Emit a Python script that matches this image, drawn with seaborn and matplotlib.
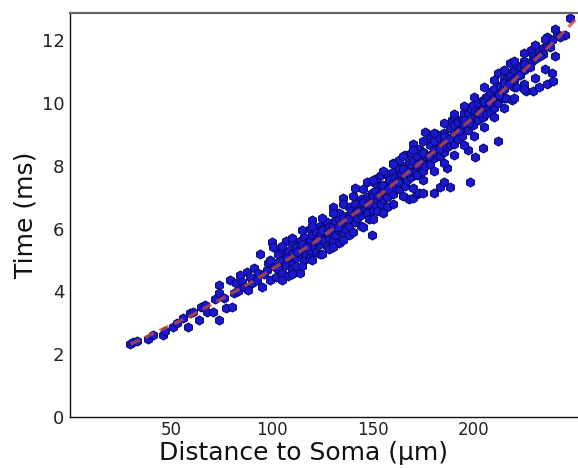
import matplotlib
matplotlib.use("Agg")
import matplotlib.pyplot as plt
import seaborn as sns
import pandas as pd

# Scatter points (distance in um, time in ms), grouped by x range
pts_near = [(29.5, 2.33), (31.2, 2.39), (33, 2.42), (38.6, 2.48), (41, 2.62), (46, 2.6), (47, 2.75),
            (51, 2.87), (53, 3.0), (56, 3.15), (58.4, 2.87), (59.4, 3.3), (61, 3.35), (64, 3.1),
            (65, 3.5), (67, 3.57), (68, 3.34), (71, 3.34), (72, 3.75), (74, 3.1), (74, 4.2),
            (74, 3.95), (76, 3.8), (77, 3.47), (79, 4.36), (80, 3.5), (81, 3.95), (82, 4.27),
            (83, 4.0), (84, 4.52), (85, 4.3), (86, 4.14), (87.6, 4.62), (88, 4.05), (89, 4.45),
            (90, 4.27), (91, 4.75), (92.6, 4.36), (93, 4.6), (94, 5.2), (95, 4.15), (96, 4.55),
            (97.5, 4.68), (98, 4.9), (99, 5.0), (99, 4.35), (100, 5.57), (100.5, 5.4),
            (101.5, 4.78), (102, 4.46)]

pts_mid = [(103, 4.95), (103, 5.2), (103, 4.7), (105, 4.6), (105, 5.0), (105, 5.35),
           (107, 4.85), (107, 5.15), (107, 5.6), (108, 4.5), (108, 5.3), (110, 4.95), (110, 5.2),
           (110, 5.55), (110, 4.7), (112, 5.05), (112, 5.4), (112, 4.8), (114, 4.6), (114, 5.2),
           (114, 5.6), (114, 5.35), (116, 5.0), (116, 5.4), (116, 5.75), (117, 5.2), (117, 5.55),
           (119, 6.0), (119, 5.3), (119, 5.6), (119, 5.05), (120, 6.27), (120, 5.45), (120, 5.8),
           (122, 5.25), (122, 5.6), (122, 5.9), (124, 5.5), (124, 5.8), (124, 6.1), (124, 5.2),
           (125, 5.65), (125, 6.0), (127, 5.45), (127, 5.85), (127, 6.2), (128, 5.7), (128, 6.05),
           (128, 5.35), (130, 6.7), (130, 5.9), (130, 6.1), (130, 5.6), (131, 6.25), (131, 5.8),
           (133, 5.95), (133, 6.3), (133, 5.55), (133, 6.5), (135, 6.97), (135, 6.15), (135, 6.4),
           (135, 5.85), (136, 6.0), (136, 6.3), (138, 6.45), (138, 6.1), (138, 6.7), (138, 5.8),
           (139, 6.3), (139, 6.55), (141, 7.3), (141, 6.5), (141, 6.2), (141, 6.8), (142, 6.35),
           (142, 6.6), (144, 6.7), (144, 6.45), (144, 6.95), (144, 6.1), (145, 6.6), (145, 6.85),
           (147, 7.5), (147, 6.75), (147, 7.0), (147, 6.5), (148, 6.9), (148, 6.3), (149.5, 5.8),
           (149.5, 7.15), (149.5, 6.85), (150, 7.05), (150, 6.6)]

pts_upper = [(151, 7.2), (151, 6.8), (151, 7.45), (152, 6.95), (152, 7.6), (152, 6.55),
             (154, 7.1), (154, 7.35), (154, 6.8), (154, 7.7), (155, 7.25), (155, 6.95),
             (157, 7.4), (157, 7.0), (157, 7.75), (157, 6.7), (158, 7.2), (158, 7.55),
             (160, 7.45), (160, 7.8), (160, 7.1), (160, 8.1), (161, 7.3), (161, 7.65),
             (163, 7.6), (163, 7.9), (163, 7.25), (163, 8.2), (164, 7.45), (164, 7.75),
             (166, 7.7), (166, 8.0), (166, 7.35), (166, 8.35), (167, 7.85), (167, 7.55),
             (168, 6.95), (168, 8.1), (169, 7.95), (169, 7.65), (169, 8.4), (170, 6.97),
             (170, 8.7), (170, 7.8), (170, 8.15), (172, 8.0), (172, 8.3), (172, 7.7), (172, 7.1),
             (173, 7.13), (173, 8.55), (173, 8.1), (175, 7.13), (175, 8.2), (175, 8.45),
             (175, 7.85), (176, 9.08), (176, 8.3), (176, 8.0), (178, 8.35), (178, 8.65),
             (178, 8.05), (178, 8.9), (180, 7.13), (180, 8.5), (180, 8.25), (180, 8.8),
             (181, 8.4), (181, 9.0), (183, 7.33), (183, 8.6), (183, 8.9), (183, 8.3), (185, 7.5),
             (185, 8.75), (185, 9.05), (185, 8.45), (186.6, 7.93), (186.6, 8.6), (188, 7.33),
             (188, 8.9), (188, 9.2), (188, 8.65), (189, 9.46), (189, 8.85), (190, 9.0), (190, 9.3),
             (190, 8.7), (190, 9.55), (192, 9.1), (192, 8.85), (192, 9.4), (194, 9.2), (194, 9.5),
             (194, 8.95), (195, 9.68), (195, 9.3), (197, 8.5), (197, 9.4), (197, 9.7), (197, 9.15),
             (198, 7.5), (198, 9.5), (198, 9.85), (199.5, 9.94), (199.5, 9.3), (200.5, 8.28),
             (200.5, 9.6), (200.5, 9.75)]

pts_far = [(202, 9.7), (202, 9.45), (202, 10.0), (204.5, 8.56), (204.5, 9.8), (204.5, 10.1),
           (204.5, 9.55), (206, 9.9), (206, 10.2), (206, 9.65), (208, 10.0), (208, 10.35),
           (208, 9.7), (210, 10.15), (210, 10.45), (210, 9.85), (212, 8.8), (212, 10.95),
           (212, 10.3), (212, 10.0), (213, 10.55), (213, 10.2), (215, 10.45), (215, 10.75),
           (215, 10.15), (216, 10.16), (216, 11.0), (218, 11.27), (218, 10.6), (218, 10.85),
           (219, 10.1), (219, 10.7), (220, 10.75), (220, 11.05), (220, 10.5), (221, 10.5),
           (221, 11.2), (223, 10.9), (223, 11.15), (225, 10.6), (225, 11.05), (225, 11.35),
           (226, 10.4), (226, 11.2), (228, 11.7), (228, 11.3), (229, 10.4), (229, 11.5),
           (230, 11.4), (232, 10.5), (232, 11.6), (234, 11.75), (234, 11.55), (236, 10.6),
           (236, 12.1), (236, 11.85), (238.6, 10.95), (238.6, 12.0), (239, 10.7), (241, 12.2),
           (245, 12.17), (247.5, 12.7)]

# Extra points at the edges and centre of the dense band
pts_band = [(105, 5.45), (105, 4.35), (110, 5.7), (110, 4.55), (115, 5.95), (115, 4.8), (115, 5.5),
            (120, 6.1), (120, 5.0), (125, 6.35), (125, 5.2), (125, 5.95), (130, 6.5), (130, 5.4),
            (135, 6.8), (135, 5.65), (135, 6.35), (140, 7.05), (140, 5.9), (145, 7.25), (145, 6.05),
            (145, 6.85), (150, 7.55), (150, 6.3), (155, 7.85), (155, 6.5), (155, 7.4), (160, 8.05),
            (160, 6.8), (165, 8.3), (165, 7.05), (165, 7.9), (170, 8.5), (170, 7.3), (175, 8.8),
            (175, 7.55), (175, 8.4), (180, 9.05), (180, 7.85), (185, 9.35), (185, 8.1), (185, 8.95),
            (190, 9.65), (190, 8.35), (195, 9.9), (195, 8.65), (195, 9.45), (200, 10.2), (200, 8.95),
            (205, 10.5), (205, 9.25), (205, 10.05), (210, 10.75), (210, 9.55), (215, 11.05),
            (215, 9.85), (215, 10.65), (220, 11.35), (220, 10.15), (225, 11.6), (225, 10.45),
            (225, 11.25), (230, 11.85), (230, 10.8), (235, 12.05), (235, 11.1), (240, 12.35),
            (240, 11.5), (107.5, 5.05), (112.5, 5.25), (117.5, 5.4), (122.5, 5.65), (127.5, 5.9),
            (132.5, 6.05), (137.5, 6.3), (142.5, 6.55), (147.5, 6.8), (152.5, 7.05), (157.5, 7.25),
            (162.5, 7.5), (167.5, 7.8), (172.5, 8.05), (177.5, 8.3), (182.5, 8.55), (187.5, 8.85),
            (192.5, 9.1), (197.5, 9.35), (202.5, 9.7), (207.5, 10.0), (212.5, 10.25),
            (217.5, 10.6), (222.5, 10.9), (227.5, 11.15), (232.5, 11.5), (237.5, 11.8),
            (242.5, 12.1)]

# Dashed fit curve
fit_x = [30, 60, 90, 120, 150, 180, 210, 240, 252]
fit_y = [2.32, 3.23, 4.30, 5.52, 6.90, 8.44, 10.13, 11.98, 12.77]

x_ticks = [50, 100, 150, 200]
y_ticks = [0, 2, 4, 6, 8, 10, 12]
x_label = "Distance to Soma (µm)"
y_label = "Time (ms)"

all_pts = pts_near + pts_mid + pts_upper + pts_far + pts_band
df = pd.DataFrame(all_pts, columns=["dist", "time"])

sns.set_style("white")
plt.rcParams["font.family"] = ["DejaVu Sans"]

fig = plt.figure(figsize=(5.78, 4.68), dpi=100)
ax = fig.add_axes([70 / 578, 51 / 468, 508 / 578, 404 / 468])

sns.scatterplot(data=df, x="dist", y="time", ax=ax, marker="h", s=42,
                color="#1a18d2", edgecolor="#0a0a70", linewidth=0.8, zorder=2)
sns.lineplot(x=fit_x, y=fit_y, ax=ax, color="#c24e3e", linewidth=2.4, alpha=0.75,
             linestyle=(0, (3.0, 1.8)), zorder=3)

ax.set_xlim(0, 251.5)
ax.set_ylim(0, 12.87)
ax.set_xticks(x_ticks)
ax.set_yticks(y_ticks)
ax.set_xticklabels([str(t) for t in x_ticks])
ax.set_yticklabels([str(t) for t in y_ticks])

ax.set_xlabel(x_label, fontsize=18, color="#111111")
ax.set_ylabel(y_label, fontsize=18, color="#111111")
ax.xaxis.set_label_coords(0.46, -0.06)
ax.yaxis.set_label_coords(-0.064, 0.5)

ax.tick_params(axis="x", direction="in", length=5, width=1, pad=3,
               labelsize=12, colors="#222222")
ax.tick_params(axis="y", direction="out", length=3, width=1, pad=1,
               labelsize=13, colors="#222222")

for side in ["left", "bottom"]:
    ax.spines[side].set_color("#111111")
    ax.spines[side].set_linewidth(1.0)
ax.spines["top"].set_color("#666666")
ax.spines["top"].set_linewidth(1.6)
ax.spines["right"].set_visible(False)

fig.savefig("out.png", dpi=100)
